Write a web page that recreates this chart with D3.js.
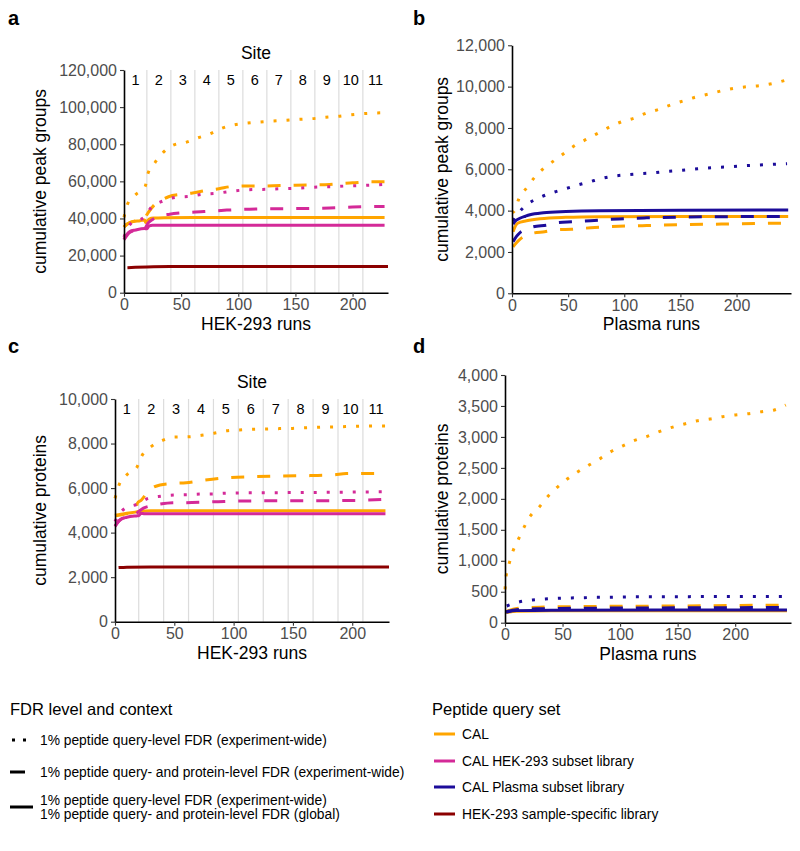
<!DOCTYPE html>
<html><head><meta charset="utf-8">
<script src="https://cdn.jsdelivr.net/npm/d3@7"></script>
<style>
body{margin:0;background:#fff}
svg{display:block}
text{font-family:"Liberation Sans",Arial,Helvetica,sans-serif}
</style>
</head><body>
<svg id="chart" width="800" height="851"></svg>
<script>
// ---------------- DATA ----------------
const siteNames = ["1","2","3","4","5","6","7","8","9","10","11"];
const siteBounds = [20,41,62,83,104,125,146,167,188,209];
const hekTicksX = [0,50,100,150,200];
const plasmaTicksX = [0,50,100,150,200];
const aTicksY = [0,20000,40000,60000,80000,100000,120000];
const bTicksY = [0,2000,4000,6000,8000,10000,12000];
const cTicksY = [0,2000,4000,6000,8000,10000];
const dTicksY = [0,500,1000,1500,2000,2500,3000,3500,4000];

// Panel a: HEK-293 runs, cumulative peak groups
const a_cal_dot = [[0,40600],[3,47600],[10.5,53000],[18.4,57100],[21,64300],[27,70000],[34,75400],[43,79500],[54,81000],[64,83300],[75,85500],[85,88500],[96.5,90500],[107,91300],[119,92000],[130.5,92500],[142,92900],[153,93400],[165,93800],[176.6,94500],[187,95000],[199,95900],[210,96500],[228,97000]];
const a_cal_dash = [[0,35500],[5,37800],[15,39300],[18,39800],[20,42000],[24,45500],[28.5,48500],[34,50300],[39,51700],[50,53000],[60,53700],[71,55000],[83,56000],[94,57200],[106,57500],[120,57500],[137,57800],[160,58000],[180,58300],[190,58800],[200,59200],[215,59800],[228,59800]];
const a_cal_solid = [[0,35300],[2,36800],[5,37700],[8,38300],[14,38800],[18,39200],[19,37800],[20,38300],[22,39700],[26,40200],[35,40400],[60,40500],[228,40500]];
const a_hek_dot = [[0,30000],[3,34500],[7,37900],[17,40400],[24,46000],[34,49400],[45.5,51400],[57,51900],[68.5,53000],[80,53500],[91,54400],[102,55200],[113,55600],[125,55700],[137,56000],[148,56200],[160,56600],[171,57000],[183,57100],[194,57500],[205.5,57700],[217,58000],[228,58400]];
const a_hek_dash = [[0,28500],[5,32500],[10,33500],[18,34500],[21,37500],[25,39500],[30,41000],[40,42300],[50,43000],[70,43700],[90,44500],[110,45000],[150,45300],[180,45600],[200,46200],[228,46500]];
const a_hek_solid = [[0,28800],[2,31000],[5,33000],[10,33800],[18,34600],[20,34400],[22,36000],[25,36400],[228,36400]];
const a_ss_solid = [[3,13500],[10,13700],[20,13900],[40,14100],[231,14100]];

// Panel b: Plasma runs, cumulative peak groups
const b_cal_dot = [[0,3900],[2.4,4000],[6,4560],[13,5100],[20,5600],[28,6030],[38,6440],[47,6800],[56,7150],[67,7470],[77,7760],[87,8050],[97,8290],[109,8480],[120,8730],[130,8890],[141,9110],[153,9320],[164,9500],[176,9650],[187,9800],[198,9920],[210,10000],[221,10050],[233,10160],[245,10330]];
const b_pl_dot = [[1,3500],[6,3900],[14,4320],[25,4640],[36,4870],[47,5050],[58,5230],[69,5390],[80,5560],[92,5680],[103,5740],[114,5790],[126,5830],[138,5900],[150,5950],[161,6000],[173,6060],[185,6100],[197,6130],[209,6180],[221,6210],[233,6240],[245,6270]];
const b_cal_dash = [[1,2250],[4,2450],[7,2610],[12,2780],[18,2900],[29,2980],[41,3080],[53,3100],[70,3170],[95,3240],[120,3280],[152,3320],[200,3360],[246,3400]];
const b_pl_dash = [[1,2500],[4,2750],[7,2930],[13,3100],[19,3220],[31,3300],[42,3430],[53,3460],[70,3510],[95,3600],[120,3650],[152,3690],[200,3710],[246,3720]];
const b_cal_solid = [[1,2980],[3,3250],[5,3390],[13,3510],[25,3610],[48,3680],[78,3710],[150,3720],[246,3720]];
const b_pl_solid = [[1,3350],[3,3500],[7,3630],[12,3730],[16,3800],[28,3900],[48,3960],[78,4000],[150,4020],[246,4030]];

// Panel c: HEK-293 runs, cumulative proteins
const c_cal_dot = [[0,5540],[3.4,6140],[9.8,6590],[18.3,6920],[22.5,7440],[30,7840],[40,8140],[50,8290],[61.5,8300],[73,8370],[83.4,8460],[94,8570],[105,8610],[116,8640],[127,8650],[138.5,8670],[149.5,8680],[161,8710],[172,8730],[183.5,8740],[194.5,8760],[206,8780],[217,8790],[228,8790]];
const c_cal_dash = [[0,4750],[10,4850],[17,5000],[19,5330],[22,5450],[29,5910],[38,6140],[49,6210],[60,6240],[72,6330],[94,6460],[117,6510],[142,6540],[165,6560],[184,6590],[195,6650],[228,6660]];
const c_cal_solid = [[0,4780],[5,4830],[10,4870],[17,4920],[22,4960],[30,4980],[228,4980]];
const c_hek_dot = [[0,4500],[3,4800],[8.4,5090],[19,5280],[28,5540],[39,5640],[50,5690],[61,5700],[72,5730],[83,5740],[94,5770],[120,5790],[160,5800],[200,5820],[228,5840]];
const c_hek_dash = [[0,4300],[5,4600],[10,4700],[17,4800],[20,4950],[24,5100],[30,5200],[38,5280],[48.6,5340],[65,5350],[87,5390],[108,5420],[150,5430],[190,5440],[212,5460],[228,5500]];
const c_hek_solid = [[0,4270],[4,4570],[10,4690],[18,4750],[20,4760],[22,4870],[25,4850],[228,4850]];
const c_ss_solid = [[3,2430],[10,2450],[30,2460],[231,2460]];

// Panel d: Plasma runs, cumulative proteins
const d_cal_dot = [[0,538],[1,754],[3.5,948],[7,1163],[12,1362],[16.5,1540],[22,1723],[30,1873],[37,2035],[45,2180],[54,2320],[63,2433],[73,2546],[83,2654],[92,2762],[102,2853],[112,2939],[123,3004],[134,3085],[145,3155],[156,3209],[167,3262],[178,3289],[189,3327],[200,3354],[212,3376],[223,3408],[234,3435],[244,3516]];
const d_pl_dot = [[1.5,270],[12,334],[24,367],[35,383],[46,394],[57,400],[69,404],[80,409],[92,412],[103,415],[115,420],[245,422]];
const d_cal_dash = [[1,180],[10,230],[30,250],[80,262],[150,270],[245,285]];
const d_pl_dash = [[1,175],[10,210],[30,225],[80,235],[150,240],[245,245]];
const d_cal_solid = [[1,165],[10,185],[40,192],[245,195]];
const d_pl_solid = [[1,170],[10,195],[40,203],[245,207]];

const fdrLabels = [
  ["1% peptide query-level FDR (experiment-wide)"],
  ["1% peptide query- and protein-level FDR (experiment-wide)"],
  ["1% peptide query-level FDR (experiment-wide)","1% peptide query- and protein-level FDR (global)"]
];
const setLabels = ["CAL","CAL HEK-293 subset library","CAL Plasma subset library","HEK-293 sample-specific library"];

// ---------------- STYLE ----------------
const colors = {cal:"#FFA500", hek:"#D42A98", pl:"#1C0C9A", ss:"#8B0000"};
const dashes = {dot:"3,10", dash:"13,13", solid:null};
const setKeys = ["cal","hek","pl","ss"];

const svg = d3.select("#chart");
svg.append("rect").attr("width",800).attr("height",851).attr("fill","#fff");

function panel(cfg){
  const x = d3.scaleLinear().domain(cfg.xd).range([cfg.l, cfg.r]);
  const y = d3.scaleLinear().domain(cfg.yd).range([cfg.b, cfg.t]);
  const g = svg.append("g");

  if (cfg.sites){
    g.selectAll(".grid").data(siteBounds).enter().append("line")
      .attr("x1",d=>x(d)).attr("x2",d=>x(d))
      .attr("y1",cfg.t).attr("y2",cfg.b)
      .attr("stroke","#dcdcdc").attr("stroke-width",1.2);
    const edges = [0].concat(siteBounds).concat([cfg.xd[1]]);
    g.selectAll(".site").data(siteNames).enter().append("text")
      .attr("x",(d,i)=>x((edges[i]+edges[i+1])/2))
      .attr("y",cfg.t+14.5)
      .attr("text-anchor","middle").attr("font-size",14.5).attr("fill","#000")
      .text(d=>d);
    g.append("text").attr("x",(cfg.l+cfg.r)/2).attr("y",cfg.t-11)
      .attr("text-anchor","middle").attr("font-size",17.5).attr("fill","#000").text("Site");
  }

  const line = d3.line().x(d=>x(d[0])).y(d=>y(d[1])).curve(d3.curveMonotoneX);
  cfg.series.forEach(s=>{
    g.append("path").datum(s.data).attr("d",line)
      .attr("fill","none").attr("stroke",colors[s.set]).attr("stroke-width",3)
      .attr("stroke-dasharray",dashes[s.type]);
  });

  const ya = g.append("g").attr("transform",`translate(${cfg.l},0)`)
    .call(d3.axisLeft(y).tickValues(cfg.yt).tickFormat(d3.format(",")).tickSize(4).tickSizeOuter(0).tickPadding(3));
  const xa = g.append("g").attr("transform",`translate(0,${cfg.b})`)
    .call(d3.axisBottom(x).tickValues(cfg.xt).tickFormat(d3.format("d")).tickSize(4).tickSizeOuter(0).tickPadding(2));
  [ya,xa].forEach(a=>{
    a.select(".domain").attr("stroke","#000").attr("stroke-width",1.6);
    a.selectAll(".tick line").attr("stroke","#333").attr("stroke-width",1.1);
    a.selectAll(".tick text").attr("fill","#4d4d4d").attr("font-size",16)
      .attr("font-family",'"Liberation Sans",Arial,sans-serif');
  });

  g.append("text").attr("transform",`translate(${cfg.yl},${(cfg.t+cfg.b)/2}) rotate(-90)`)
    .attr("text-anchor","middle").attr("dy","0.35em").attr("font-size",17.5).attr("fill","#000").text(cfg.ytitle);
  g.append("text").attr("x",(cfg.l+cfg.r)/2).attr("y",cfg.b+37)
    .attr("text-anchor","middle").attr("font-size",17.5).attr("fill","#000").text(cfg.xtitle);

  svg.append("text").attr("x",cfg.lx).attr("y",cfg.ly).attr("font-size",20)
    .attr("font-weight","bold").attr("fill","#000").text(cfg.label);
}

panel({label:"a",lx:8,ly:25,l:124,r:388,t:70,b:292.7,xd:[0,231],yd:[0,120000],xt:hekTicksX,yt:aTicksY,
  sites:true,yl:39.5,ytitle:"cumulative peak groups",xtitle:"HEK-293 runs",
  series:[
    {set:"cal",type:"solid",data:a_cal_solid},{set:"cal",type:"dash",data:a_cal_dash},{set:"cal",type:"dot",data:a_cal_dot},
    {set:"hek",type:"solid",data:a_hek_solid},{set:"hek",type:"dash",data:a_hek_dash},{set:"hek",type:"dot",data:a_hek_dot},
    {set:"ss",type:"solid",data:a_ss_solid}
  ]});
panel({label:"b",lx:413,ly:25,l:512,r:791,t:45.3,b:293.3,xd:[0,248.5],yd:[0,12000],xt:plasmaTicksX,yt:bTicksY,
  sites:false,yl:442,ytitle:"cumulative peak groups",xtitle:"Plasma runs",
  series:[
    {set:"cal",type:"solid",data:b_cal_solid},{set:"cal",type:"dash",data:b_cal_dash},{set:"cal",type:"dot",data:b_cal_dot},
    {set:"pl",type:"solid",data:b_pl_solid},{set:"pl",type:"dash",data:b_pl_dash},{set:"pl",type:"dot",data:b_pl_dot}
  ]});
panel({label:"c",lx:8,ly:353,l:115,r:389,t:399,b:621.7,xd:[0,231],yd:[0,10000],xt:hekTicksX,yt:cTicksY,
  sites:true,yl:39.5,ytitle:"cumulative proteins",xtitle:"HEK-293 runs",
  series:[
    {set:"cal",type:"solid",data:c_cal_solid},{set:"cal",type:"dash",data:c_cal_dash},{set:"cal",type:"dot",data:c_cal_dot},
    {set:"hek",type:"solid",data:c_hek_solid},{set:"hek",type:"dash",data:c_hek_dash},{set:"hek",type:"dot",data:c_hek_dot},
    {set:"ss",type:"solid",data:c_ss_solid}
  ]});
panel({label:"d",lx:413,ly:353,l:505,r:791,t:375,b:622.7,xd:[0,248.5],yd:[0,4000],xt:plasmaTicksX,yt:dTicksY,
  sites:false,yl:442,ytitle:"cumulative proteins",xtitle:"Plasma runs",
  series:[
    {set:"cal",type:"solid",data:d_cal_solid},{set:"cal",type:"dash",data:d_cal_dash},{set:"cal",type:"dot",data:d_cal_dot},
    {set:"pl",type:"solid",data:d_pl_solid},{set:"pl",type:"dash",data:d_pl_dash},{set:"pl",type:"dot",data:d_pl_dot}
  ]});

// ---------------- LEGENDS ----------------
const lg = svg.append("g");
lg.append("text").attr("x",10).attr("y",715).attr("font-size",16.5).attr("fill","#000").text("FDR level and context");
const fdrY = [740, 772, 807];
const fdrTypes = ["dot","dash","solid"];
const fdrLen = {dot:[12,26], dash:[10,25], solid:[10,33]};
fdrTypes.forEach((t,i)=>{
  lg.append("line").attr("x1",fdrLen[t][0]).attr("x2",fdrLen[t][1]).attr("y1",fdrY[i]).attr("y2",fdrY[i])
    .attr("stroke","#000").attr("stroke-width",3).attr("stroke-dasharray",t==="dot"?"3,8":null);
  const lines = fdrLabels[i];
  lines.forEach((s,j)=>{
    lg.append("text").attr("x",40).attr("y",fdrY[i]+(j-(lines.length-1)/2)*14).attr("dy","0.35em")
      .attr("font-size",13.8).attr("fill","#000").text(s);
  });
});
lg.append("text").attr("x",432).attr("y",715).attr("font-size",16.5).attr("fill","#000").text("Peptide query set");
const setY = [734, 761, 787, 814];
setKeys.forEach((k,i)=>{
  lg.append("line").attr("x1",434).attr("x2",455).attr("y1",setY[i]).attr("y2",setY[i])
    .attr("stroke",colors[k]).attr("stroke-width",3);
  lg.append("text").attr("x",462).attr("y",setY[i]).attr("dy","0.35em").attr("font-size",13.8)
    .attr("fill","#000").text(setLabels[i]);
});
</script>
</body></html>
